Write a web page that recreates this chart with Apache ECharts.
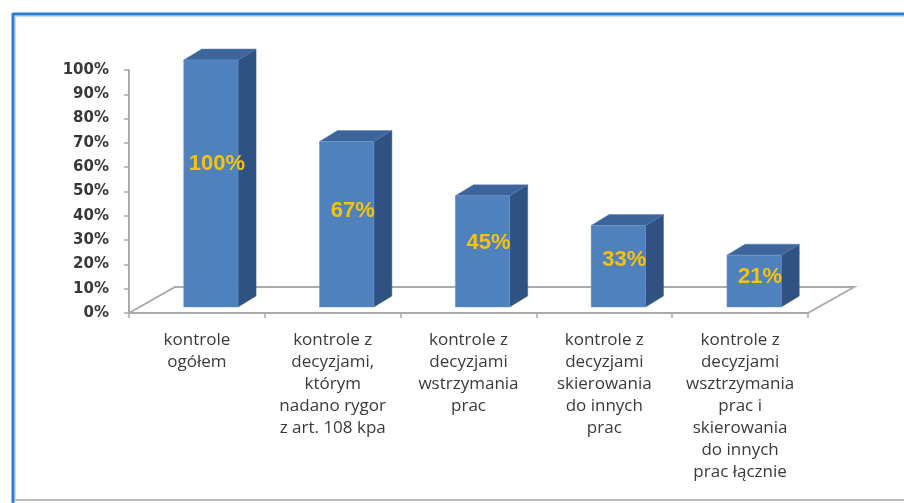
<!DOCTYPE html>
<html>
<head>
<meta charset="utf-8">
<script src="https://cdn.jsdelivr.net/npm/echarts@6/dist/echarts.min.js"></script>
<style>
html,body{margin:0;padding:0;background:#fff;}
#chart{width:904px;height:503px;}
</style>
</head>
<body>
<div id="chart"></div>
<script>
var categories = [
  "kontrole\nogółem",
  "kontrole z\ndecyzjami,\nktórym\nnadano rygor\nz art. 108 kpa",
  "kontrole z\ndecyzjami\nwstrzymania\nprac",
  "kontrole z\ndecyzjami\nskierowania\ndo innych\nprac",
  "kontrole z\ndecyzjami\nwsztrzymania\nprac i\nskierowania\ndo innych\nprac łącznie"
];
var values = [100, 67, 45, 33, 21];
var yTicks = [0, 10, 20, 30, 40, 50, 60, 70, 80, 90, 100];

var FRONT = '#4F81BD', SIDE = '#2F5283', TOP = '#3D659B';
var DEPTH_X = 18, DEPTH_Y = -11;
var FLOOR_DX = 46, FLOOR_DY = -26;
var GRAY = '#ababab';

var chart = echarts.init(document.getElementById('chart'));

var option = {
  backgroundColor: '#ffffff',
  animation: false,
  grid: [
    {left: 129, right: 96, top: 70, bottom: 190},
    {left: 143, right: 82, top: 60, bottom: 196}
  ],
  xAxis: [
    {
      type: 'category', gridIndex: 0, data: categories,
      axisLine: {lineStyle: {color: GRAY, width: 2}},
      axisTick: {show: true, length: 5, lineStyle: {color: GRAY, width: 1.5}},
      axisLabel: {
        interval: 0, margin: 16, color: '#3a3a3a',
        fontFamily: 'Open Sans', fontSize: 17, lineHeight: 22
      }
    },
    {type: 'category', gridIndex: 1, data: categories, show: false}
  ],
  yAxis: [
    {
      type: 'value', gridIndex: 0, min: yTicks[0], max: yTicks[yTicks.length - 1], interval: 10,
      axisLine: {show: true, lineStyle: {color: GRAY, width: 2}},
      axisTick: {show: true, length: 5, lineStyle: {color: GRAY, width: 1.5}},
      splitLine: {show: false},
      axisLabel: {
        margin: 20, color: '#383838', fontFamily: 'DejaVu Sans', fontWeight: 'bold', fontSize: 15,
        formatter: function (v) { return v + '%'; }
      }
    },
    {type: 'value', gridIndex: 1, min: 0, max: 100, show: false}
  ],
  series: [
    {
      type: 'custom', name: 'floor', xAxisIndex: 0, yAxisIndex: 0, z: 1,
      data: [[0, 0]],
      renderItem: function (params, api) {
        var n = categories.length;
        var band = api.size([1, 0])[0];
        var p0 = api.coord([0, 0]);
        var pN = api.coord([n - 1, 0]);
        var xl = p0[0] - band / 2, xr = pN[0] + band / 2, y = p0[1];
        var ls = {stroke: GRAY, lineWidth: 2, fill: null};
        return {
          type: 'group',
          children: [
            {type: 'polyline', shape: {points: [[xl, y], [xl + FLOOR_DX, y + FLOOR_DY], [xr + FLOOR_DX, y + FLOOR_DY], [xr, y]]}, style: ls}
          ]
        };
      }
    },
    {
      type: 'custom', name: 'bars', xAxisIndex: 1, yAxisIndex: 1, z: 5,
      data: values.map(function (v, i) { return [i, v]; }),
      renderItem: function (params, api) {
        var i = api.value(0), v = api.value(1);
        var c = api.coord([i, v]);
        var b = api.coord([i, 0]);
        var bw = api.size([1, 0])[0] * 0.4;
        var x0 = c[0] - bw / 2, x1 = c[0] + bw / 2, yt = c[1], yb = b[1];
        var h = yb - yt;
        return {
          type: 'group',
          children: [
            {type: 'polygon', shape: {points: [[x1, yb], [x1 + DEPTH_X, yb + DEPTH_Y], [x1 + DEPTH_X, yt + DEPTH_Y], [x1, yt]]},
             style: {fill: SIDE, stroke: '#3a5f90', lineWidth: 0.5}},
            {type: 'polygon', shape: {points: [[x0, yt], [x0 + DEPTH_X, yt + DEPTH_Y], [x1 + DEPTH_X, yt + DEPTH_Y], [x1, yt]]},
             style: {fill: TOP, stroke: '#5a80b5', lineWidth: 0.5}},
            {type: 'rect', shape: {x: x0, y: yt, width: bw, height: h},
             style: {fill: FRONT, stroke: '#6f97cc', lineWidth: 0.5}},
            {type: 'text', x: c[0] + 6, y: yb - h * 0.58,
             style: {text: v + '%', fill: '#F5C211', font: 'bold 22px "Liberation Sans", Arial, sans-serif',
                     align: 'center', verticalAlign: 'middle'}}
          ]
        };
      }
    }
  ],
  graphic: [
    {type: 'line', shape: {x1: 13, y1: 14, x2: 904, y2: 14}, style: {stroke: '#2B7BD2', lineWidth: 3}, silent: true},
    {type: 'line', shape: {x1: 16, y1: 16.5, x2: 904, y2: 16.5}, style: {stroke: '#c9d9ee', lineWidth: 1}, silent: true},
    {type: 'line', shape: {x1: 13, y1: 13, x2: 13, y2: 503}, style: {stroke: '#2B7BD2', lineWidth: 3}, silent: true},
    {type: 'line', shape: {x1: 15.5, y1: 16, x2: 15.5, y2: 499}, style: {stroke: '#c9d9ee', lineWidth: 1}, silent: true},
    {type: 'line', shape: {x1: 15, y1: 500, x2: 904, y2: 500}, style: {stroke: '#bdbdbd', lineWidth: 2}, silent: true}
  ]
};
chart.setOption(option);
</script>
</body>
</html>
